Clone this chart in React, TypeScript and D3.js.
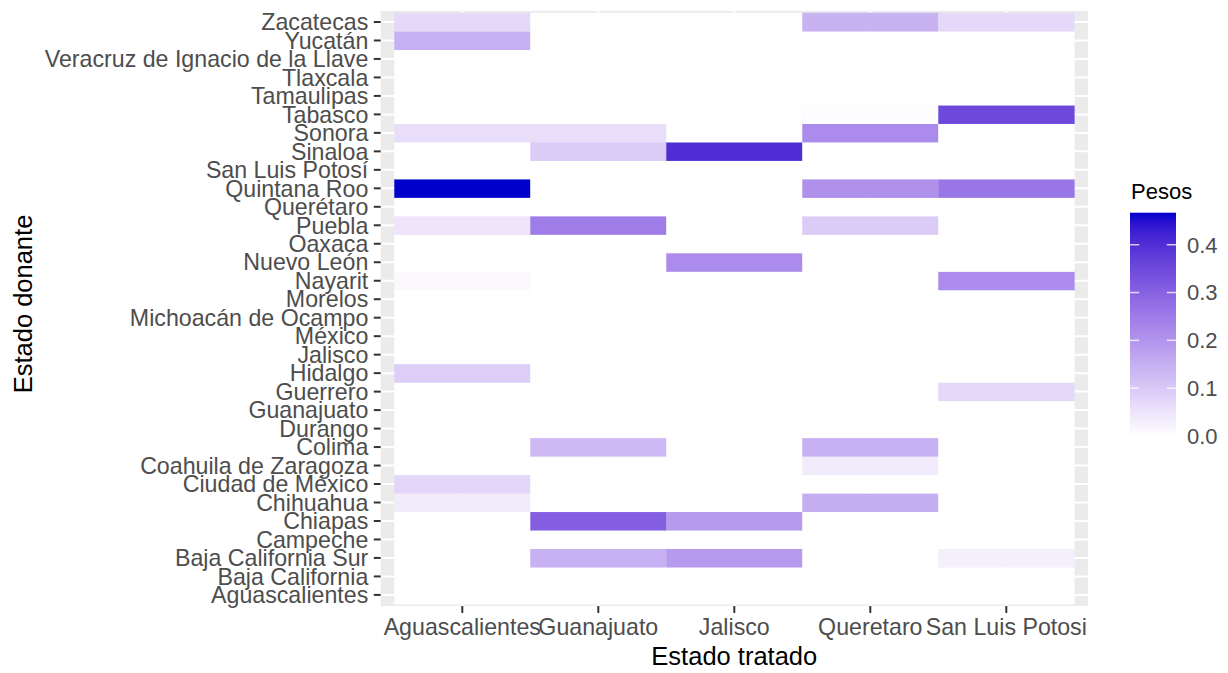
import React from "react";
import * as d3 from "d3";

// Donor states, bottom to top
const donors = [
  "Aguascalientes", "Baja California", "Baja California Sur", "Campeche", "Chiapas",
  "Chihuahua", "Ciudad de México", "Coahuila de Zaragoza", "Colima", "Durango",
  "Guanajuato", "Guerrero", "Hidalgo", "Jalisco", "México", "Michoacán de Ocampo",
  "Morelos", "Nayarit", "Nuevo León", "Oaxaca", "Puebla", "Querétaro", "Quintana Roo",
  "San Luis Potosí", "Sinaloa", "Sonora", "Tabasco", "Tamaulipas", "Tlaxcala",
  "Veracruz de Ignacio de la Llave", "Yucatán", "Zacatecas",
];

const treated = ["Aguascalientes", "Guanajuato", "Jalisco", "Queretaro", "San Luis Potosi"];

// Weights per treated state, in donor order (bottom to top)
const wAguascalientes = [0, 0, 0, 0, 0, 0.036, 0.075, 0, 0, 0, 0, 0, 0.092, 0, 0, 0, 0, 0.011, 0, 0, 0.047, 0, 0.467, 0, 0, 0.061, 0, 0, 0, 0, 0.145, 0.07];
const wGuanajuato = [0, 0, 0.145, 0, 0.307, 0, 0, 0, 0.13, 0, 0, 0, 0, 0, 0, 0, 0, 0, 0, 0, 0.247, 0, 0, 0, 0.095, 0.061, 0, 0, 0, 0, 0, 0];
const wJalisco = [0, 0, 0.189, 0, 0.189, 0, 0, 0, 0, 0, 0, 0, 0, 0, 0, 0, 0, 0, 0.218, 0, 0, 0, 0, 0, 0.403, 0, 0, 0, 0, 0, 0, 0];
const wQueretaro = [0, 0, 0, 0, 0, 0.154, 0, 0.036, 0.145, 0, 0, 0, 0, 0, 0, 0, 0, 0, 0, 0, 0.095, 0, 0.207, 0, 0, 0.218, 0.006, 0, 0, 0, 0, 0.143];
const wSanLuisPotosi = [0, 0, 0.029, 0, 0, 0, 0, 0, 0, 0, 0, 0.07, 0, 0, 0, 0, 0, 0.218, 0, 0, 0, 0, 0.26, 0, 0, 0, 0.352, 0, 0, 0, 0, 0.07];

const weightColumns = [wAguascalientes, wGuanajuato, wJalisco, wQueretaro, wSanLuisPotosi];

const legendBreaks = [0, 0.1, 0.2, 0.3, 0.4];

const FONT = "'Liberation Sans', Arial, Helvetica, sans-serif";

export default function App() {
  const W = 1228, H = 673;
  const panel = { left: 380.7, right: 1087.9, top: 10.9, bottom: 606 };

  const cells = treated.flatMap((t, ci) =>
    donors.map((d, ri) => ({ t, d, v: weightColumns[ci][ri] }))
  );
  const maxV = d3.max(cells, (c) => c.v) as number;

  const x = d3.scaleBand<string>().domain(treated).range([panel.left, panel.right]).paddingInner(0).paddingOuter(0.1);
  const y = d3.scaleBand<string>().domain(donors).range([panel.bottom, panel.top]).paddingInner(0).paddingOuter(0.1);

  const color = d3.scaleLinear<string>().domain([0, maxV]).range(["#ffffff", "#0000cd"]).interpolate(d3.interpolateLab);

  const leg = { x: 1130, w: 46, top: 212.7, bottom: 436 };
  const ly = d3.scaleLinear().domain([0, maxV]).range([leg.bottom, leg.top]);
  const stops = d3.range(0, 1.0001, 0.05);

  const tickLen = 6.9;
  const textColor = "#4D4D4D";
  const axisFont = 23.2;

  return (
    <svg width={W} height={H} style={{ position: "absolute", left: 0, top: 0, background: "#fff" }} fontFamily={FONT}>
      <defs>
        <linearGradient id="pesosGrad" x1="0" y1="1" x2="0" y2="0">
          {stops.map((s) => (
            <stop key={s} offset={`${s * 100}%`} stopColor={color(s * maxV)} />
          ))}
        </linearGradient>
      </defs>
      <rect width={W} height={H} fill="#fff" />
      {/* panel */}
      <rect x={panel.left} y={panel.top} width={panel.right - panel.left} height={panel.bottom - panel.top} fill="#EBEBEB" />
      {donors.map((d) => (
        <line key={"gy" + d} x1={panel.left} x2={panel.right} y1={y(d)! + y.bandwidth() / 2} y2={y(d)! + y.bandwidth() / 2} stroke="#fff" strokeWidth={2} />
      ))}
      {treated.map((t) => (
        <line key={"gx" + t} y1={panel.top} y2={panel.bottom} x1={x(t)! + x.bandwidth() / 2} x2={x(t)! + x.bandwidth() / 2} stroke="#fff" strokeWidth={2} />
      ))}
      {/* tiles */}
      {cells.map((c) => (
        <rect key={c.t + c.d} x={x(c.t)} y={y(c.d)} width={x.bandwidth() + 0.3} height={y.bandwidth() + 0.3} fill={color(c.v)} />
      ))}
      {/* y axis */}
      {donors.map((d) => {
        const cy = y(d)! + y.bandwidth() / 2;
        return (
          <g key={"ya" + d}>
            <line x1={panel.left - tickLen} x2={panel.left} y1={cy} y2={cy} stroke="#333333" strokeWidth={2} />
            <text x={panel.left - tickLen - 5.5} y={cy} dy="0.355em" textAnchor="end" fontSize={axisFont} fill={textColor}>{d}</text>
          </g>
        );
      })}
      {/* x axis */}
      {treated.map((t) => {
        const cx = x(t)! + x.bandwidth() / 2;
        return (
          <g key={"xa" + t}>
            <line x1={cx} x2={cx} y1={panel.bottom} y2={panel.bottom + tickLen} stroke="#333333" strokeWidth={2} />
            <text x={cx} y={635} textAnchor="middle" fontSize={axisFont} fill={textColor}>{t}</text>
          </g>
        );
      })}
      {/* axis titles */}
      <text x={(panel.left + panel.right) / 2} y={665} textAnchor="middle" fontSize={25.5} fill="#000">Estado tratado</text>
      <text transform={`translate(32.3, 304) rotate(-90)`} textAnchor="middle" fontSize={25.5} fill="#000">Estado donante</text>
      {/* legend */}
      <text x={1131} y={198.5} fontSize={22} fill="#000">Pesos</text>
      <rect x={leg.x} y={leg.top} width={leg.w} height={leg.bottom - leg.top} fill="url(#pesosGrad)" />
      {legendBreaks.map((b) => (
        <g key={"lb" + b}>
          <line x1={leg.x} x2={leg.x + leg.w / 5} y1={ly(b)} y2={ly(b)} stroke="#fff" strokeOpacity={0.75} strokeWidth={1.5} />
          <line x1={leg.x + leg.w - leg.w / 5} x2={leg.x + leg.w} y1={ly(b)} y2={ly(b)} stroke="#fff" strokeOpacity={0.75} strokeWidth={1.5} />
          <text x={1187} y={ly(b)} dy="0.355em" fontSize={22} fill={textColor}>{b.toFixed(1)}</text>
        </g>
      ))}
    </svg>
  );
}
